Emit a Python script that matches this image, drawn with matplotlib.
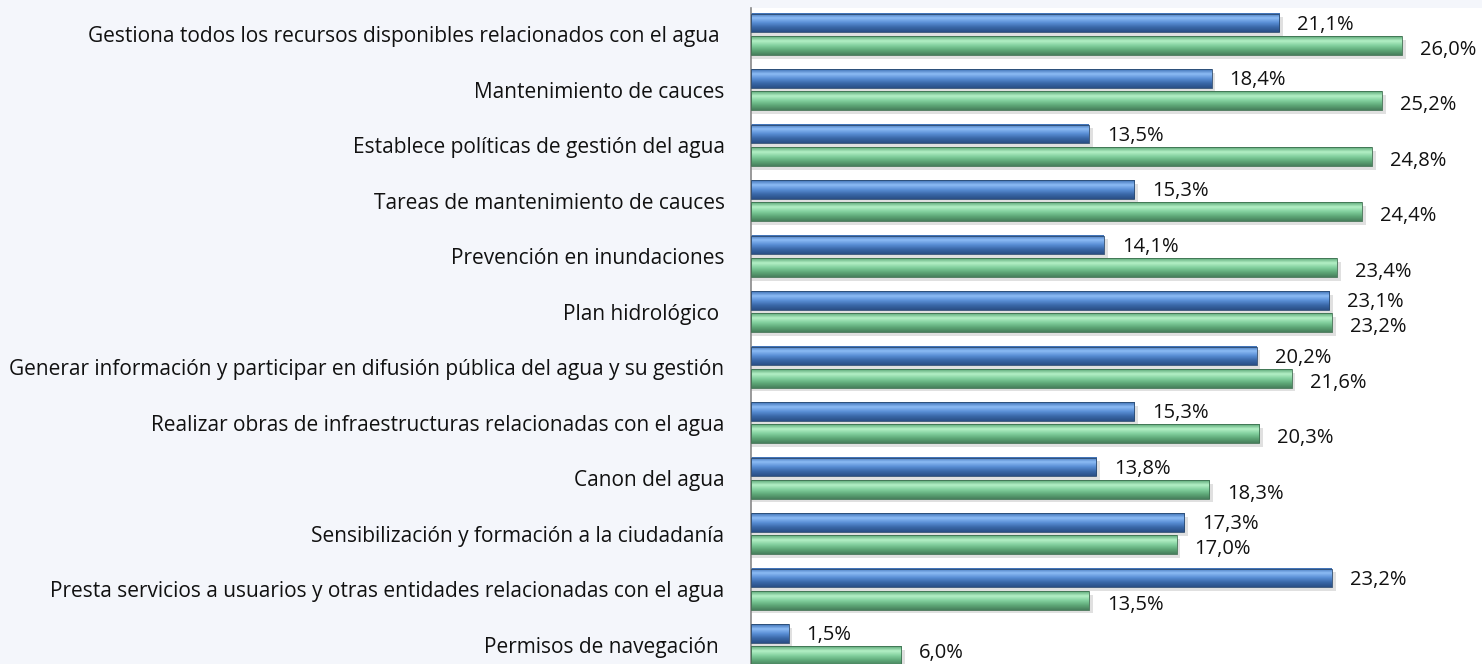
import numpy as np
import matplotlib.pyplot as plt
from matplotlib.colors import LinearSegmentedColormap

# categories top -> bottom
categorias = [
    "Gestiona todos los recursos disponibles relacionados con el agua ",
    "Mantenimiento de cauces",
    "Establece políticas de gestión del agua",
    "Tareas de mantenimiento de cauces",
    "Prevención en inundaciones",
    "Plan hidrológico ",
    "Generar información y participar en difusión pública del agua y su gestión",
    "Realizar obras de infraestructuras relacionadas con el agua",
    "Canon del agua",
    "Sensibilización y formación a la ciudadanía",
    "Presta servicios a usuarios y otras entidades relacionadas con el agua",
    "Permisos de navegación ",
]
serie_azul = [21.1, 18.4, 13.5, 15.3, 14.1, 23.1, 20.2, 15.3, 13.8, 17.3, 23.2, 1.5]
serie_verde = [26.0, 25.2, 24.8, 24.4, 23.4, 23.2, 21.6, 20.3, 18.3, 17.0, 13.5, 6.0]

plt.rcParams['font.family'] = ['Open Sans', 'DejaVu Sans']

fig = plt.figure(figsize=(14.82, 6.64), dpi=100, facecolor='#f4f6fb')
ax = fig.add_axes([751 / 1482, 0, 1 - 751 / 1482, 1 - 8 / 664])
ax.set_facecolor('white')

cmap_azul = LinearSegmentedColormap.from_list('az', ['#3d6fb4', '#8dbcf5', '#5a8fd6', '#3a68a8', '#2a4f86'])
cmap_verde = LinearSegmentedColormap.from_list('ve', ['#5aa676', '#b4f0c6', '#82d09e', '#5ea878', '#477f5c'])
grad = np.linspace(0, 1, 64).reshape(-1, 1)

h = 0.34
off = 0.2
y = np.arange(len(categorias))
ymax = 11.35

def barra(v, yc, cmap, borde):
    # sombra
    ax.barh(yc + 0.07, v + 0.15, height=h, color='#9a9a9a', alpha=0.3, zorder=1, linewidth=0)
    ax.imshow(grad, cmap=cmap, aspect='auto', extent=[0, v, yc + h / 2, yc - h / 2], zorder=2)
    ax.barh(yc, v, height=h, color='none', edgecolor=borde, linewidth=0.6, zorder=3)

for i in range(len(categorias)):
    barra(serie_azul[i], y[i] - off, cmap_azul, '#2b4a70')
    barra(serie_verde[i], y[i] + off, cmap_verde, '#3e7050')
    ax.text(serie_azul[i] + 0.72, y[i] - off + 0.03, f"{serie_azul[i]:.1f}%".replace('.', ','),
            va='center', ha='left', fontsize=14.5, color='#111111')
    ax.text(serie_verde[i] + 0.72, min(y[i] + off + 0.08, ymax - 0.2), f"{serie_verde[i]:.1f}%".replace('.', ','),
            va='center', ha='left', fontsize=14.5, color='#111111')

ax.set_xlim(0, 29.2)
ax.set_ylim(ymax, -0.47)
ax.set_yticks(y)
ax.set_yticklabels(categorias, fontsize=15, color='#111111')
ax.tick_params(axis='y', length=0, pad=19)
ax.set_xticks([])
for s in ['top', 'right', 'bottom']:
    ax.spines[s].set_visible(False)
ax.spines['left'].set_color('#888888')
ax.spines['left'].set_linewidth(1.2)

fig.savefig('out.png', dpi=100, facecolor=fig.get_facecolor())
